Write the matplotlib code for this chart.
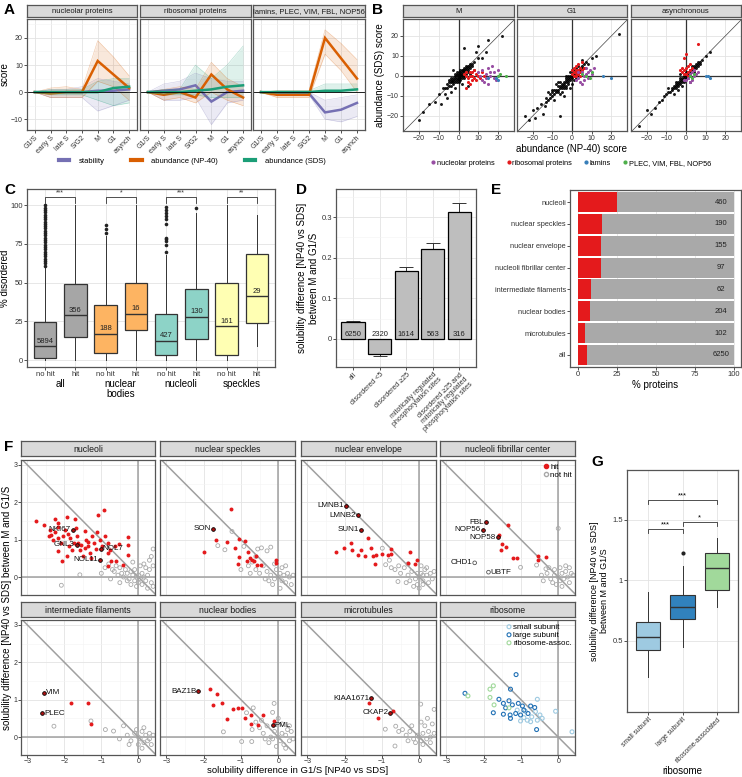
import matplotlib
matplotlib.use("Agg")
from matplotlib import pyplot as plt
from matplotlib.lines import Line2D
from matplotlib.ticker import MultipleLocator
import matplotlib.transforms as mtrans
import numpy as np

plt.rcParams['font.family'] = ['Liberation Sans', 'DejaVu Sans']

W, H = 742, 777
fig = plt.figure(figsize=(W / 100, H / 100), dpi=100)

# ---------------- data: panel A ----------------
phases = ['G1/S', 'early S', 'late S', 'S/G2', 'M', 'G1', 'asynch']
a_facets = ['nucleolar proteins', 'ribosomal proteins', 'lamins, PLEC, VIM, FBL, NOP56']
stab_mean = [[0, 0, 0, 0, 0.5, 0.5, 1], [0, 0.5, 1, 2.5, -3.5, 0, 0.5], [0, -0.5, -0.5, -0.5, -7.5, -6.5, -4]]
stab_lo = [[0, -2, -2, -2, -7, -5, -3], [0, -3, -3, -2, -12, -4, -3], [0, -1, -1, -1, -10, -11, -9]]
stab_hi = [[0, 1, 1, 2, 5, 4, 3], [0, 3, 4, 7, 5, 4, 4], [0, 0, 0, 0, -3, -2, -1]]
np40_mean = [[0, -0.5, 0, 0, 11.5, 6.5, 1.5], [0, -1, 0, -2, 6.5, 1, -2], [0, -1, -1, -1, 20, 12.5, 5]]
np40_lo = [[0, -2, -2, -2, 4, 2, -3], [0, -3, -2, -4, 0, -3, -5], [0, -2, -2, -2, 14, 8, 0]]
np40_hi = [[0, 1.5, 2, 1, 19, 13, 6], [0, 1, 2, 1, 11, 5, 2], [0, 0.5, 0.5, 0.5, 23, 18, 12]]
sds_mean = [[0, 0, 0, 0, 0, 1.5, 2], [0, 0, 0, 0.5, 1, 2, 2.5], [0, 0, 0, 0, 0.5, 0.5, 1]]
sds_lo = [[0, -1, -1, -1, -3, -5, -4], [0, -1, -1, -1, -2, -2, -2], [0, 0, 0, 0, 0, 0, 0]]
sds_hi = [[0, 1, 1, 1, 4, 5, 5], [0, 1, 1, 10, 5, 10, 17], [0, 0.5, 0.5, 0.5, 3, 3, 3]]

# ---------------- data: panel B ----------------
b_facets = ['M', 'G1', 'asynchronous']
b_black = [
    [(-4, -3), (-3, -2), (-2, -2), (-1, -1), (0, 0), (1, 1), (2, 2), (3, 2), (4, 3), (5, 4), (-3, -4), (-2, 0),
     (0, -2), (2, 0), (0, 2), (1, -1), (-1, 1), (3, 4), (-5, -5), (-6, -4), (6, 5), (7, 6), (-1, -3), (1, 3),
     (-2, -1), (2, 1), (4, 1), (-4, -1), (5, 2), (3, 0), (-8, -6), (-10, -9), (-12, -13), (-7, -9), (8, 7),
     (10, 9), (12, 9), (-15, -14), (-20, -22), (-6, -11), (-4, -8), (6, 1), (8, 3), (-3, 3), (2, -4), (9, 12),
     (14, 12), (15, 18), (10, 15), (3, 14), (22, 20), (-18, -18), (-9, -14), (5, -5), (-2, -6), (-1, 0.5),
     (0.5, -0.5), (1.5, 0.5), (-0.5, -1.5), (2.5, 3), (-3.5, -2.5), (-5, -3), (-4, -5), (-3, -1), (-2, -3),
     (-1, -2), (0, -1), (1, 0), (2, 3), (3, 3), (4, 4), (5, 5), (6, 4), (-6, -6), (-7, -6), (-5, -2),
     (-1, 2), (0, 1), (1, 2), (2, -1), (3, 1), (4, 5), (5, 3), (6, 6), (7, 5), (-3, -3), (-4, -2), (0, -3),
     (-2, 1), (3, -1), (1, -2)],
    [(-2, -2), (0, 0), (2, 2), (-4, -3), (-3, -5), (-5, -4), (-6, -6), (-7, -5), (-8, -8), (-9, -7), (-10, -10),
     (-11, -9), (-12, -12), (-13, -11), (-14, -15), (-16, -14), (4, 3), (5, 5), (6, 4), (7, 7), (8, 6), (3, 5),
     (1, -2), (-1, 2), (-3, 0), (0, -4), (2, -1), (-5, -8), (-8, -4), (-6, -9), (-10, -7), (-18, -16),
     (-20, -17), (-22, -22), (-24, -20), (10, 9), (12, 10), (-4, -10), (-15, -19), (-19, -21), (-7, -3),
     (-1, -6), (-3, -1), (1, 1), (3, 0), (-2, -4), (-9, -12), (-12, -8), (-6, -20), (24, 21), (5, 8), (0, 3),
     (-1, -1), (-4, -5), (-5, -6), (-7, -7), (-2, -3), (-3, -3), (-2, 0), (-1, -2), (0, -1), (1, 0), (2, 1),
     (3, 2), (4, 4), (5, 4), (-4, -4), (-5, -5), (-6, -5), (-7, -8), (-8, -7), (-9, -9), (-10, -8), (-3, -2),
     (-2, -1), (0, 1), (1, 3), (2, 4), (-6, -3), (-4, -6), (-11, -11), (-13, -13), (-3, -6), (6, 6), (3, 1),
     (-1, 0)],
    [(-1, -1), (0, 0), (1, 1), (2, 2), (3, 3), (4, 4), (5, 5), (6, 6), (-2, -2), (-3, -3), (-4, -4), (-5, -5),
     (-6, -6), (-7, -6), (-8, -8), (-10, -9), (-12, -12), (-14, -13), (-16, -16), (-20, -17), (7, 7), (8, 8),
     (10, 10), (-1, -3), (1, -1), (-3, -1), (2, 0), (0, 2), (-2, -5), (-5, -3), (4, 2), (3, 5), (-6, -9),
     (-9, -6), (-4, -7), (12, 12), (-18, -19), (-24, -25), (-3, 1), (2, -3), (5, 6), (6, 7), (7, 6), (-1, 0),
     (0, -1), (1, 0), (0, 1), (2, 1), (1, 2), (3, 2), (2, 3), (-2, -1), (-1, -2), (-3, -2), (-2, -3), (-4, -3),
     (-3, -4), (-5, -4), (-4, -5), (4, 3), (3, 4), (5, 4), (4, 5), (-6, -5), (-5, -6), (-7, -7), (6, 5),
     (-9, -8), (-11, -10)],
]
b_nucleolar = [
    [(10, 2), (12, 3), (14, 1), (15, 4), (16, 0), (18, 2), (19, -2), (13, -3), (17, 5), (11, 0), (20, 3),
     (14, -1), (15, -4), (12, -2), (16, 2), (18, -1)],
    [(5, 2), (6, 0), (7, 1), (8, -1), (9, 3), (3, -1), (7, 4), (10, 1), (6, -2), (4, -3), (8, 2), (3, 2),
     (2, -2), (11, 4), (5, -4)],
    [(2, 1), (3, 2), (4, 0), (1, -1), (3, -2), (5, 1), (2, -3), (0, -2), (-1, -2), (4, 3), (6, 2)],
]
b_ribosomal = [
    [(3, 1), (4, 0), (5, -1), (6, 2), (7, 0), (8, -1), (9, 1), (10, 0), (11, -1), (12, 2), (5, -3), (6, -4),
     (4, -6), (7, 2), (8, 3), (9, -2), (13, 0), (6, 0), (4, 2), (7, -2)],
    [(0, 1), (1, 2), (2, 3), (3, 1), (4, 2), (2, 0), (1, 4), (3, 3), (5, 3), (0, 3), (2, 5), (4, 0), (1, 0),
     (3, 6), (6, 4), (5, 7), (4, 4), (2, 1.5), (3, 2)],
    [(-2, 2), (-1, 3), (0, 4), (1, 2), (2, 3), (0, 1), (-1, 1), (1, 5), (3, 4), (-2, 4), (0, 11), (6, 16),
     (-1, 9), (2, 6), (-3, 3), (4, 3), (1, 0)],
]
b_lamins = [[(15, -1), (19, -1), (20, -2)], [(16, 0), (20, -1)], [(10, 0), (12, -1), (11, 0)]]
b_other = [[(20, 0), (24, 0), (21, 1)], [(7, 0), (9, -1), (5, 1), (10, 2)], [(2, 0), (4, 1), (3, -1)]]

# ---------------- data: panel C ----------------
c_ticklabels = ['no hit', 'hit'] * 4
c_groups = ['all', 'nuclear\nbodies', 'nucleoli', 'speckles']
c_counts = [5894, 356, 188, 16, 427, 130, 161, 29]
c_q1 = [1, 15, 4.5, 19.5, 3, 13.5, 3.5, 24]
c_med = [9, 29, 17, 30, 12.5, 28, 22, 41.5]
c_q3 = [24.5, 49, 35.5, 50, 29.5, 46, 50, 68.5]
c_lo = [0, 0, 0, 0, 0, 0, 0, 9]
c_hi = [60, 100, 80, 100, 68, 95, 100, 94]
c_fliers = [
    [61, 62.5, 64, 65.5, 67, 68.5, 70, 71.5, 73, 74.5, 76, 77.5, 79, 80.5, 82, 83.5, 85, 86.5, 88, 89.5,
     91, 92.5, 94, 95.5, 97, 98.5, 100],
    [], [82, 84.5, 87], [], [70, 74, 77, 78, 79, 88, 91, 93, 95, 97, 99], [98.5], [], []]
c_signif = ['***', '*', '***', '**']

# ---------------- data: panel D ----------------
d_labels = ['all', 'disordered <5', 'disordered \u226525',
            'mitotically regulated\nphosphorylation sites',
            'disordered \u226525 and\nmitotically regulated\nphosphorylation sites']
d_mean = [0.042, -0.037, 0.168, 0.221, 0.313]
d_err = [0.003, 0.004, 0.009, 0.016, 0.022]
d_n = [6250, 2320, 1614, 563, 316]

# ---------------- data: panel E ----------------
e_labels = ['nucleoli', 'nuclear speckles', 'nuclear envelope', 'nucleoli fibrillar center',
            'intermediate filaments', 'nuclear bodies', 'microtubules', 'all']
e_hit_pct = [25.2, 15.0, 14.6, 14.4, 8.1, 7.4, 4.6, 5.7]
e_n = [460, 190, 155, 97, 62, 204, 102, 6250]

# ---------------- data: panel F ----------------
f_names = ['nucleoli', 'nuclear speckles', 'nuclear envelope', 'nucleoli fibrillar center',
           'intermediate filaments', 'nuclear bodies', 'microtubules', 'ribosome']
nucleoli_hit = [(-2.76, 1.51), (-2.56, 1.40), (-2.39, 1.27), (-2.26, 1.54), (-2.18, 1.45), (-2.16, 1.34),
                (-2.35, 1.13), (-2.41, 1.11), (-2.31, 1.0), (-2.18, 1.04), (-1.94, 1.60), (-1.97, 1.27),
                (-2.03, 1.09), (-2.09, 0.91), (-2.18, 0.69), (-2.05, 0.44), (-1.84, 1.04), (-1.88, 0.82),
                (-1.79, 0.73), (-1.71, 1.54), (-1.68, 1.31), (-1.67, 1.09), (-1.62, 0.91), (-1.58, 0.73),
                (-1.50, 0.55), (-1.44, 1.22), (-1.41, 1.0), (-1.37, 0.82), (-1.31, 0.64), (-1.24, 1.09),
                (-1.20, 0.91), (-1.11, 1.20), (-1.09, 1.67), (-1.03, 1.0), (-0.98, 0.82), (-0.94, 1.78),
                (-0.90, 1.09), (-0.83, 0.91), (-0.81, 0.64), (-0.77, 0.73), (-0.73, 0.42), (-0.60, 0.44),
                (-0.64, 0.84), (-0.51, 0.89), (-0.42, 0.33), (-0.81, 0.30), (-0.28, 1.07), (-0.28, 0.87),
                (-0.28, 0.60), (-1.28, 0.51), (-1.45, 0.78), (-1.75, 0.91), (-1.92, 0.55), (-1.55, 0.85),
                (-1.15, 0.75), (-1.9, 1.15), (-2.25, 1.2), (-1.35, 0.95)]
nucleoli_nohit = [(-0.05, 0), (0, 0.05), (0.05, -0.05), (0.1, 0.1), (-0.1, -0.1), (0.15, 0), (-0.15, 0.05),
                  (0.2, -0.1), (-0.2, 0.15), (0.25, 0.05), (-0.25, -0.05), (0.3, 0.2), (0.35, -0.15),
                  (-0.3, 0.1), (0.1, -0.2), (-0.1, 0.2), (0.05, 0.3), (0.2, 0.25), (-0.4, 0), (-0.35, 0.2),
                  (-0.45, 0.1), (-0.5, 0.25), (-0.55, 0.05), (-0.6, 0.3), (-0.65, 0.15), (-0.7, 0.2),
                  (-0.8, 0.35), (-0.9, 0.25), (-1.0, 0.1), (0.3, 0.45), (0.4, 0.75), (0.35, 0.55),
                  (0.4, -0.25), (0.25, -0.3), (-0.05, -0.25), (-0.2, -0.2), (0.0, -0.15), (0.15, 0.35),
                  (-0.3, -0.1), (-1.58, 0.06), (-2.08, -0.22), (-0.75, -0.05), (-0.15, 0.4), (0.4, 0.3),
                  (-0.5, -0.15)]
nucleoli_named = [('NKI67', -1.77, 1.27, True, 'left'), ('GNL3', -1.67, 0.87, True, 'left'),
                  ('NOL7', -1.01, 0.76, True, 'right'), ('NOL11', -1.04, 0.46, True, 'left')]
speckles_hit = [(-1.26, 1.83), (-1.67, 1.0), (-1.98, 0.67), (-1.37, 0.94), (-1.05, 1.02), (-0.90, 0.97),
                (-1.15, 0.78), (-1.05, 0.53), (-0.81, 0.66), (-0.77, 0.51), (-0.71, 0.46), (-0.60, 0.55),
                (-0.83, 0.44), (-1.07, 0.35), (-0.56, 0.33), (-0.47, 0.33), (-0.06, 0.46), (-0.06, 0.37),
                (-0.64, 0.42)]
speckles_nohit = [(-1.24, 1.22), (-1.62, 0.84), (-1.43, 0.73), (-0.92, 0.82), (-0.55, 0.75), (-0.45, 0.78),
                  (-0.3, 0.7), (-0.2, 0.8), (-0.6, 0.55), (-0.7, 0.4), (-0.8, 0.3), (-1.0, 0.2), (-0.5, 0.1),
                  (-0.4, 0.3), (-0.3, 0.15), (-0.2, 0.05), (-0.1, -0.05), (0, 0), (0.05, 0.1), (0.1, -0.1),
                  (0.15, 0.05), (0.2, -0.15), (0.25, 0.1), (0.3, 0), (0.35, -0.2), (0.4, 0.05), (-0.05, 0.2),
                  (-0.15, -0.2), (-0.25, -0.1), (0.1, 0.25), (-0.35, -0.05), (0.05, -0.3), (-0.6, 0.2),
                  (-0.75, 0.1), (0.2, 0.3), (-0.1, 0.35)]
speckles_named = [('SON', -1.74, 1.29, True, 'left')]
envelope_hit = [(-2.24, 0.68), (-2.02, 0.79), (-1.80, 0.73), (-1.82, 0.90), (-1.64, 0.60), (-1.55, 0.73),
                (-1.46, 0.55), (-1.38, 1.04), (-1.30, 0.77), (-1.23, 0.55), (-1.17, 0.59), (-1.01, 0.62),
                (-0.85, 0.59), (-0.76, 0.76), (-0.75, 0.62), (-1.19, 0.36), (-0.26, 0.68), (-0.29, 0.38),
                (-0.06, 0.45), (-0.11, 0.35)]
envelope_nohit = [(-0.99, 0.77), (-0.9, 0.33), (-0.57, -0.12), (-0.75, 0.25), (-0.65, 0.2), (-0.55, 0.3),
                  (-0.5, 0.1), (-0.4, 0.25), (-0.3, 0.05), (-0.2, 0.15), (-0.1, -0.05), (0, 0), (0.05, 0.1),
                  (0.1, -0.1), (0.15, 0.2), (0.2, 0.05), (0.25, -0.15), (0.3, 0.1), (0.35, -0.05),
                  (0.4, 0.15), (-0.05, -0.2), (-0.15, -0.25), (0.0, -0.3), (0.1, -0.2), (-0.25, -0.1),
                  (-0.35, -0.15), (0.05, 0.3), (0.2, 0.25), (-0.3, 0.35), (-0.8, 0.45), (0.1, 0.05),
                  (-0.05, 0.1)]
envelope_named = [('LMNB1', -1.96, 1.91, True, 'left'), ('LMNB2', -1.65, 1.65, True, 'left'),
                  ('SUN1', -1.57, 1.27, True, 'left')]
fibrillar_hit = [(-1.34, 1.38), (-1.59, 1.13), (-1.50, 0.89), (-1.40, 0.80), (-1.54, 0.73), (-1.21, 0.52),
                 (-1.10, 0.52), (-0.55, 0.57), (-0.54, 0.46), (-0.33, 0.53)]
fibrillar_nohit = [(0, 1.30), (-1.01, 0.26), (-0.58, 0.32), (-0.33, 0.22), (-0.45, 0.05), (-0.3, 0.1),
                   (-0.2, -0.05), (-0.1, 0.05), (0, 0), (0.05, -0.1), (0.1, 0.1), (0.15, -0.05), (0.2, 0.15),
                   (0.25, 0), (0.3, -0.15), (0.35, 0.1), (0.4, 0.05), (-0.05, -0.2), (-0.15, -0.15),
                   (0.05, 0.25), (-0.25, 0.25), (0.1, -0.25), (-0.4, -0.1), (0.2, 0.3), (-0.1, 0.2),
                   (0.3, 0.25)]
fibrillar_named = [('FBL', -1.94, 1.47, True, 'left'), ('NOP56', -2.03, 1.27, True, 'left'),
                   ('NOP58', -1.62, 1.06, True, 'left'), ('CHD1', -2.24, 0.38, False, 'left'),
                   ('UBTF', -1.87, 0.13, False, 'right')]
filaments_hit = [(-1.83, 0.90), (-1.37, 0.90), (-1.28, 0.36)]
filaments_nohit = [(-2.28, 0.29), (-0.89, 0.2), (-0.67, 0.16), (-1.28, 0.43), (-0.4, 0.3), (-0.51, -0.05),
                   (-0.3, 0.05), (-0.2, -0.1), (-0.1, 0.1), (0, 0), (0.05, -0.05), (0.1, 0.15),
                   (0.15, -0.15), (0.2, 0.05), (0.25, -0.1), (0.3, 0.1), (0.35, -0.2), (0.4, 0.05),
                   (-0.05, 0.2), (0.0, -0.2), (0.15, 0.25), (-0.25, -0.2), (0.1, -0.3), (0.3, -0.05)]
filaments_named = [('VIM', -2.54, 1.19, True, 'right'), ('PLEC', -2.59, 0.63, True, 'right')]
bodies_hit = [(-1.83, 1.28), (-1.63, 1.14), (-1.74, 0.85), (-1.52, 0.90), (-1.21, 0.76), (-1.07, 0.77),
              (-0.96, 0.79), (-1.38, 0.47), (-0.88, 0.50), (-0.74, 0.59), (-0.74, 0.36), (-0.55, 0.32),
              (-0.40, 0.58), (-0.12, 0.43)]
bodies_nohit = [(-1.47, 0.14), (-0.98, -0.12), (-0.71, -0.12), (-0.67, 0.78), (-0.85, 0.65), (-0.11, 0.9),
                (-0.15, 0.66), (-0.6, 0.4), (-0.7, 0.2), (-0.5, 0.25), (-0.4, 0.1), (-0.3, 0.3), (-0.2, 0),
                (-0.1, 0.15), (0, 0), (0.05, -0.1), (0.1, 0.1), (0.15, -0.2), (0.2, 0.05), (0.25, 0.2),
                (0.3, -0.1), (0.35, 0.15), (0.4, -0.05), (-0.05, -0.25), (-0.25, -0.15), (0.1, 0.35),
                (0.0, 0.5), (-0.35, -0.05), (-0.45, 0.45), (0.3, 0.3), (-0.15, -0.05), (0.2, -0.3)]
bodies_named = [('BAZ1B', -2.14, 1.23, True, 'left'), ('PML', -0.15, 0.32, True, 'right')]
microtubules_hit = [(-1.36, 0.90), (-1.10, 0.51), (-0.69, 0.69)]
microtubules_nohit = [(-0.91, 0.21), (-0.65, -0.24), (-0.63, 0.29), (0.04, 0.88), (0.4, 0.74), (0.22, 0.5),
                      (-0.55, 0.15), (-0.45, 0.2), (-0.35, 0.05), (-0.25, 0.15), (-0.15, -0.05),
                      (-0.05, 0.05), (0, 0), (0.05, -0.1), (0.1, 0.1), (0.15, 0.3), (0.2, -0.05),
                      (0.25, 0.15), (0.3, 0), (0.35, 0.35), (0.4, 0.1), (0.1, -0.2), (-0.1, -0.15),
                      (0.05, 0.4), (-0.3, -0.1), (0.3, -0.15), (-0.2, 0.3)]
microtubules_named = [('KIAA1671', -1.29, 1.04, True, 'left'), ('CKAP2', -0.78, 0.65, True, 'left')]
ribo_small = [(-0.56, 1.01), (-0.07, 0.69), (0.37, 0.14), (-0.49, 0.59), (-0.56, 0.45), (-1.01, 0.43),
              (-0.83, 0.45), (-0.71, 0.54), (-0.88, 0.69), (-1.10, 0.72), (-0.92, 0.52), (-0.61, 0.68),
              (-0.74, 0.41), (-0.43, 0.50)]
ribo_large = [(-1.13, 1.67), (-1.28, 1.28), (-2.5, 1.17), (-1.59, 1.01), (-1.74, 0.65), (-1.47, 0.90),
              (-1.32, 0.97), (-1.23, 0.86), (-1.07, 0.90), (-0.96, 0.83), (-0.74, 0.83), (-0.63, 0.79),
              (-1.29, 0.59), (-1.14, 0.63), (-1.01, 0.59), (-0.81, 0.63), (-0.58, 0.20), (-1.47, 0.61),
              (-1.41, 0.78), (-0.92, 0.72), (-1.28, 0.50)]
ribo_assoc = [(-2.42, 1.10), (-1.74, 1.37), (-1.83, 1.28), (-1.83, 1.06), (-1.72, 0.86), (-1.32, 0.78)]

f_hits = [nucleoli_hit, speckles_hit, envelope_hit, fibrillar_hit, filaments_hit, bodies_hit,
          microtubules_hit, []]
f_nohits = [nucleoli_nohit, speckles_nohit, envelope_nohit, fibrillar_nohit, filaments_nohit,
            bodies_nohit, microtubules_nohit, []]
f_named = [nucleoli_named, speckles_named, envelope_named, fibrillar_named, filaments_named,
           bodies_named, microtubules_named, []]

# ---------------- data: panel G ----------------
g_labels = ['small subunit', 'large subunit', 'ribosome-associated']
g_q1 = [0.42, 0.68, 0.92]
g_med = [0.53, 0.78, 1.10]
g_q3 = [0.65, 0.88, 1.22]
g_lo = [0.20, 0.45, 0.78]
g_hi = [0.90, 1.12, 1.35]
g_fliers = [[], [1.22], []]

# ---------------- helpers ----------------
C_STAB, C_NP40, C_SDS = '#7570B3', '#D95F02', '#1B9E77'
RED, GREY = '#E41A1C', '#A8A8A8'


def px_axes(x0, y0, x1, y1):
    return fig.add_axes([x0 / W, 1 - y1 / H, (x1 - x0) / W, (y1 - y0) / H])


def gg(ax, fs=5):
    ax.set_facecolor('white')
    ax.set_axisbelow(True)
    ax.grid(True, which='major', color='#E3E3E3', lw=0.6)
    ax.grid(True, which='minor', color='#F3F3F3', lw=0.4)
    for s in ax.spines.values():
        s.set_color('#555555')
        s.set_linewidth(0.9)
    ax.tick_params(labelsize=fs, length=2, width=0.6, colors='#333333', pad=1)
    ax.tick_params(which='minor', length=0)


def strip(x0, y0, x1, y1, text, fs):
    s = px_axes(x0, y0, x1, y1)
    s.set_facecolor('#D9D9D9')
    s.set_xticks([])
    s.set_yticks([])
    for sp in s.spines.values():
        sp.set_color('#555555')
        sp.set_linewidth(0.9)
    s.text(0.5, 0.45, text, ha='center', va='center', fontsize=fs, color='#1A1A1A', transform=s.transAxes)


def letter(x, y, t):
    fig.text(x / W, 1 - y / H, t, fontsize=11, fontweight='bold', ha='left', va='center')


def xy(points):
    return [p[0] for p in points], [p[1] for p in points]


# ---------------- panel A ----------------
letter(4, 10, 'A')
a_x = [(27, 137), (140, 251), (253, 365)]
for i, (x0, x1) in enumerate(a_x):
    ax = px_axes(x0, 19, x1, 130)
    gg(ax)
    xs = np.arange(len(phases))
    for mean, lo, hi, col in ((stab_mean[i], stab_lo[i], stab_hi[i], C_STAB),
                              (np40_mean[i], np40_lo[i], np40_hi[i], C_NP40),
                              (sds_mean[i], sds_lo[i], sds_hi[i], C_SDS)):
        ax.fill_between(xs, lo, hi, color=col, alpha=0.14, lw=0)
        ax.plot(xs, lo, color=col, lw=0.4, alpha=0.35)
        ax.plot(xs, hi, color=col, lw=0.4, alpha=0.35)
        ax.plot(xs, mean, color=col, lw=1.8, solid_joinstyle='miter')
    ax.axhline(0, color='black', lw=0.6)
    ax.set_xlim(-0.5, 6.5)
    ax.set_ylim(-14, 27)
    ax.set_yticks([-10, 0, 10, 20])
    ax.yaxis.set_minor_locator(MultipleLocator(5))
    ax.set_xticks(xs)
    ax.set_xticklabels(phases, rotation=45, ha='right', rotation_mode='anchor')
    if i == 0:
        ax.set_ylabel('score', fontsize=7, labelpad=1)
    else:
        ax.tick_params(axis='y', left=False, labelleft=False)
    strip(x0, 5, x1, 17, a_facets[i], 5.5)

a_handles = [Line2D([], [], color=c, lw=3) for c in (C_STAB, C_NP40, C_SDS)]
fig.legend(a_handles, ['stability', 'abundance (NP-40)', 'abundance (SDS)'], loc='center',
           bbox_to_anchor=(192 / W, 1 - 161 / H), ncol=3, frameon=False, fontsize=5.5,
           handlelength=1.4, columnspacing=3.5, handletextpad=1.2)

# ---------------- panel B ----------------
letter(372, 10, 'B')
b_x = [(403, 514), (517, 627), (631, 741)]
for i, (x0, x1) in enumerate(b_x):
    ax = px_axes(x0, 19, x1, 131)
    gg(ax)
    ax.axline((0, 0), slope=1, color='#444444', lw=0.5, zorder=1)
    ax.axhline(0, color='#333333', lw=0.9, zorder=1)
    ax.axvline(0, color='#333333', lw=0.9, zorder=1)
    bx, by = xy(b_black[i])
    ax.scatter(bx, by, s=4.5, c='black', lw=0, alpha=0.9, zorder=2)
    for pts, col in ((b_ribosomal[i], RED), (b_nucleolar[i], '#984EA3'),
                     (b_other[i], '#4DAF4A'), (b_lamins[i], '#377EB8')):
        px, py = xy(pts)
        ax.scatter(px, py, s=5, c=col, lw=0, zorder=3)
    ax.set_xlim(-28, 28)
    ax.set_ylim(-27.5, 28.5)
    ax.set_xticks([-20, -10, 0, 10, 20])
    ax.set_yticks([-20, -10, 0, 10, 20])
    if i == 0:
        ax.set_ylabel('abundance (SDS) score', fontsize=7, labelpad=1)
    else:
        ax.tick_params(axis='y', left=False, labelleft=False)
    if i == 1:
        ax.set_xlabel('abundance (NP-40) score', fontsize=7, labelpad=1)
    strip(x0, 5, x1, 17, b_facets[i], 5.5)

b_handles = [Line2D([], [], marker='o', ls='', color=c, markersize=2)
             for c in ('#984EA3', RED, '#377EB8', '#4DAF4A')]
fig.legend(b_handles, ['nucleolar proteins', 'ribosomal proteins', 'lamins', 'PLEC, VIM, FBL, NOP56'],
           loc='center', bbox_to_anchor=(571 / W, 1 - 163 / H), ncol=4, frameon=False, fontsize=5.3,
           handlelength=0.6, handletextpad=0.2, columnspacing=1.6)

# ---------------- panel C ----------------
letter(4, 190, 'C')
ax = px_axes(27, 189, 275, 367)
gg(ax, 5.5)
c_colors = ['#A6A6A6', '#A6A6A6', '#FDB462', '#FDB462', '#8DD3C7', '#8DD3C7', '#FFFFB3', '#FFFFB3']
c_pos = np.arange(1, len(c_counts) + 1)
stats = [dict(med=c_med[k], q1=c_q1[k], q3=c_q3[k], whislo=c_lo[k], whishi=c_hi[k], fliers=c_fliers[k])
         for k in range(len(c_counts))]
bp = ax.bxp(stats, positions=c_pos, widths=0.75, patch_artist=True, showcaps=False,
            boxprops=dict(edgecolor='#333333', lw=0.9),
            medianprops=dict(color='#333333', lw=1.0),
            whiskerprops=dict(color='#333333', lw=0.7),
            flierprops=dict(marker='o', markerfacecolor='#222222', markeredgecolor='none', markersize=2.6))
for patch, col in zip(bp['boxes'], c_colors):
    patch.set_facecolor(col)
for k in range(len(c_counts)):
    ax.text(c_pos[k], c_med[k] + 0.8, str(c_counts[k]), ha='center', va='bottom', fontsize=5.5, color='#222222')
for g in range(4):
    a, b = c_pos[2 * g], c_pos[2 * g + 1]
    ax.plot([a, a, b, b], [101.5, 105.5, 105.5, 101.5], color='#333333', lw=0.6)
    ax.text((a + b) / 2, 105.8, c_signif[g], ha='center', va='bottom', fontsize=5, color='#333333')
ax.set_xlim(0.4, 8.6)
ax.set_ylim(-4.5, 110.5)
ax.set_yticks([0, 25, 50, 75, 100])
ax.set_xticks(c_pos)
ax.set_xticklabels(c_ticklabels, fontsize=5.5)
trans = mtrans.blended_transform_factory(ax.transData, ax.transAxes)
for g in range(4):
    ax.text((c_pos[2 * g] + c_pos[2 * g + 1]) / 2, -0.065, c_groups[g], transform=trans, ha='center',
            va='top', fontsize=7, linespacing=1.1)
ax.set_ylabel('% disordered', fontsize=7, labelpad=0.5)

# ---------------- panel D ----------------
letter(296, 190, 'D')
ax = px_axes(336, 189, 476, 367)
gg(ax, 5.5)
d_pos = np.arange(len(d_mean))
ax.bar(d_pos, d_mean, width=0.87, color='#BEBEBE', edgecolor='black', lw=0.9, zorder=2)
d_low = [e if m < 0 else 0 for m, e in zip(d_mean, d_err)]
d_up = [e if m > 0 else 0 for m, e in zip(d_mean, d_err)]
ax.errorbar(d_pos, d_mean, yerr=[d_low, d_up], fmt='none', ecolor='#333333', elinewidth=0.7,
            capsize=5, capthick=0.7, zorder=1)
for k in range(len(d_n)):
    ax.text(d_pos[k], 0.003, str(d_n[k]), ha='center', va='bottom', fontsize=5.5, color='#222222', zorder=3)
ax.set_xlim(-0.64, 4.62)
ax.set_ylim(-0.069, 0.369)
ax.set_yticks([0, 0.1, 0.2, 0.3])
ax.set_yticklabels(['0', '0.1', '0.2', '0.3'])
ax.yaxis.set_minor_locator(MultipleLocator(0.05))
ax.set_xticks(d_pos)
ax.set_xticklabels(d_labels, rotation=45, ha='right', rotation_mode='anchor', fontsize=5, linespacing=1.0)
ax.set_ylabel('solubility difference [NP40 vs SDS]\nbetween M and G1/S', fontsize=7, labelpad=2)

# ---------------- panel E ----------------
letter(491, 190, 'E')
ax = px_axes(570, 190, 741, 367)
gg(ax, 5.5)
ax.grid(False, axis='y')
e_pos = np.arange(len(e_labels))[::-1]
e_rest = [100 - p for p in e_hit_pct]
ax.barh(e_pos, e_hit_pct, height=0.92, color=RED, lw=0, zorder=2)
ax.barh(e_pos, e_rest, left=e_hit_pct, height=0.92, color='#A9A9A9', lw=0, zorder=2)
for k in range(len(e_n)):
    ax.text(91.5, e_pos[k], str(e_n[k]), ha='center', va='center', fontsize=5.5, color='#222222', zorder=3)
ax.set_xlim(-5.3, 104.5)
ax.set_ylim(-0.55, 7.55)
ax.set_yticks(e_pos)
ax.set_yticklabels(e_labels, fontsize=5.3)
ax.set_xticks([0, 25, 50, 75, 100])
ax.set_xlabel('% proteins', fontsize=7, labelpad=1)

# ---------------- panel F ----------------
letter(4, 447, 'F')
f_cols = [(21, 155), (160, 295), (301, 436), (440, 575)]
f_rows = [(460, 595, 441, 456), (620, 755, 602, 617)]
for k, name in enumerate(f_names):
    r, c = divmod(k, 4)
    x0, x1 = f_cols[c]
    y0, y1, s0, s1 = f_rows[r]
    ax = px_axes(x0, y0, x1, y1)
    gg(ax, 5)
    ax.tick_params(pad=0.5)
    ax.axline((0, 0), slope=-1, color='#A0A0A0', lw=1.1, zorder=1)
    ax.axhline(0, color='#A0A0A0', lw=1.1, zorder=1)
    ax.axvline(0, color='#A0A0A0', lw=1.1, zorder=1)
    if f_nohits[k]:
        px, py = xy(f_nohits[k])
        ax.scatter(px, py, s=8, facecolors='none', edgecolors=GREY, lw=0.6, zorder=2)
    if f_hits[k]:
        px, py = xy(f_hits[k])
        ax.scatter(px, py, s=8, c=RED, lw=0, zorder=3)
    for lab, lx, ly, hit, side in f_named[k]:
        if hit:
            ax.scatter([lx], [ly], s=7, c='#B01010', edgecolors='black', lw=0.6, zorder=4)
        else:
            ax.scatter([lx], [ly], s=7, facecolors='none', edgecolors='#555555', lw=0.6, zorder=4)
        if side == 'left':
            ax.text(lx - 0.05, ly, lab, ha='right', va='center', fontsize=5.8, color='#111111', zorder=5)
        else:
            ax.text(lx + 0.05, ly, lab, ha='left', va='center', fontsize=5.8, color='#111111', zorder=5)
    if name == 'ribosome':
        for pts, col, lab in ((ribo_small, '#9ECAE1', 'small subunit'), (ribo_large, '#2171B5', 'large subunit'),
                              (ribo_assoc, '#A1D99B', 'ribosome-assoc.')):
            px, py = xy(pts)
            ax.scatter(px, py, s=8, facecolors='none', edgecolors=col, lw=0.8, zorder=3, label=lab)
        ax.legend(loc='upper right', fontsize=5.8, frameon=False, handletextpad=0.0, labelspacing=0.05,
                  borderpad=0.2, handlelength=1.0, borderaxespad=0.2)
    if name == 'nucleoli fibrillar center':
        hh = [Line2D([], [], marker='o', ls='', color=RED, markersize=3),
              Line2D([], [], marker='o', ls='', markerfacecolor='none', markeredgecolor=GREY, markersize=3)]
        ax.legend(hh, ['hit', 'not hit'], loc='upper right', fontsize=5.8, frameon=False, handletextpad=0.0,
                  labelspacing=0.05, borderpad=0.2, handlelength=1.0, borderaxespad=0.2)
    ax.set_xlim(-3.17, 0.45)
    ax.set_ylim(-0.48, 3.13)
    ax.set_xticks([-3, -2, -1, 0])
    ax.set_yticks([0, 1, 2, 3])
    ax.xaxis.set_minor_locator(MultipleLocator(0.5))
    ax.yaxis.set_minor_locator(MultipleLocator(0.5))
    if c > 0:
        ax.tick_params(axis='y', left=False, labelleft=False)
    if r == 0:
        ax.tick_params(axis='x', bottom=False, labelbottom=False)
    strip(x0, s0, x1, s1, name, 6.3)

fig.text(298 / W, 1 - 775 / H, 'solubility difference in G1/S [NP40 vs SDS]', ha='center', va='bottom',
         fontsize=6.8)
fig.text(7 / W, 1 - 608 / H, 'solubility difference [NP40 vs SDS] between M and G1/S', ha='center',
         va='center', rotation=90, fontsize=7)

# ---------------- panel G ----------------
letter(591, 462, 'G')
ax = px_axes(627, 470, 738, 712)
gg(ax, 5.5)
g_pos = np.arange(1, 4)
g_stats = [dict(med=g_med[k], q1=g_q1[k], q3=g_q3[k], whislo=g_lo[k], whishi=g_hi[k], fliers=g_fliers[k])
           for k in range(3)]
bp = ax.bxp(g_stats, positions=g_pos, widths=0.7, patch_artist=True, showcaps=False,
            boxprops=dict(edgecolor='#333333', lw=0.8),
            medianprops=dict(color='#333333', lw=1.0),
            whiskerprops=dict(color='#333333', lw=0.7),
            flierprops=dict(marker='o', markerfacecolor='#222222', markeredgecolor='none', markersize=3))
for patch, col in zip(bp['boxes'], ['#9ECAE1', '#3182BD', '#A1D99B']):
    patch.set_facecolor(col)
g_brackets = [(1, 3, 1.66, '***'), (1, 2, 1.42, '***'), (2, 3, 1.48, '*')]
for a, b, yv, s in g_brackets:
    ax.plot([a, a, b, b], [yv - 0.03, yv, yv, yv - 0.03], color='#333333', lw=0.6)
    ax.text((a + b) / 2, yv + 0.005, s, ha='center', va='bottom', fontsize=5.5)
ax.set_xlim(0.4, 3.6)
ax.set_ylim(-0.09, 1.91)
ax.set_yticks([0.5, 1, 1.5])
ax.set_yticklabels(['0.5', '1', '1.5'])
ax.set_xticks(g_pos)
ax.set_xticklabels(g_labels, rotation=45, ha='right', rotation_mode='anchor', fontsize=4.8)
ax.set_xlabel('ribosome', fontsize=7, labelpad=1)
ax.set_ylabel('solubility difference [NP40 vs SDS]\nbetween M and G1/S', fontsize=6.5, labelpad=2)

fig.savefig('out.png', dpi=100)
